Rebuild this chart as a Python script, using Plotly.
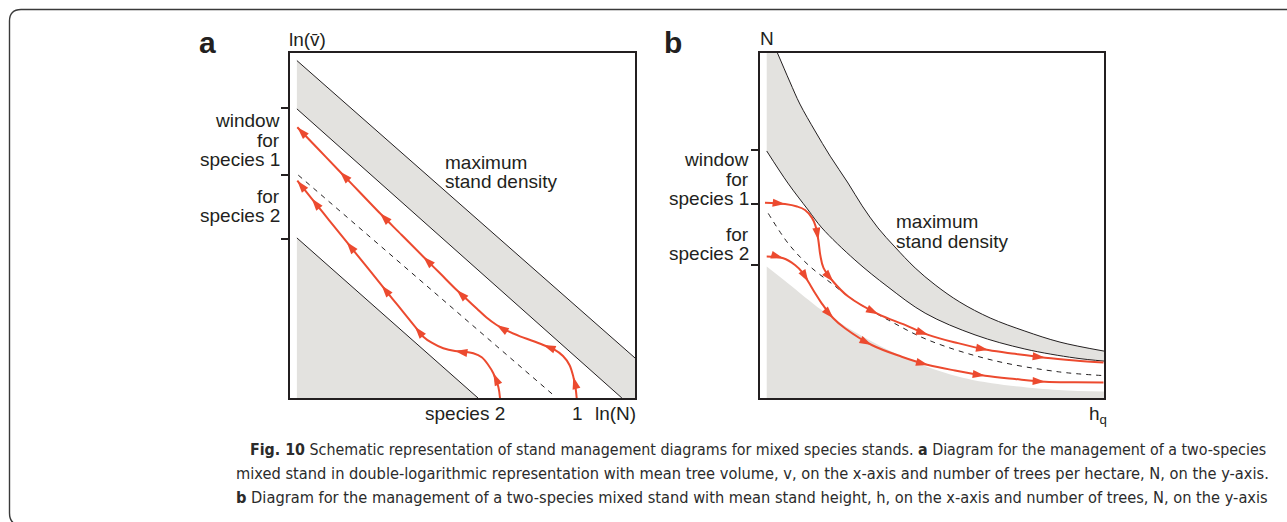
import math
import plotly.graph_objects as go

W, H = 1287, 522

# ---------------- Panel a (double-log diagram), axis units 0..100 ----------------
A_TICKS = [46.1, 64.6, 84.1]
A_MAX_X = [2.0, 100.0]
A_MAX_Y = [97.8, 11.6]
A_WIN_X = [2.0, 96.2]
A_WIN_Y = [83.8, 0.0]
A_MIN_X = [2.0, 54.5]
A_MIN_Y = [46.4, 0.0]
A_DASH_X = [2.4, 76.3]
A_DASH_Y = [64.6, 0.9]
A_S1_X = [83.10, 82.78, 82.12, 81.01, 79.13, 76.52, 73.42, 70.0, 66.67, 63.19, 59.91, 56.96,
          54.12, 51.16, 48.32, 43.48, 38.64, 32.38, 26.09, 20.29, 14.49, 8.32, 2.12]
A_S1_Y = [0.0, 2.9, 6.17, 9.57, 12.17, 14.06, 15.36, 16.67, 17.88, 19.36, 21.16, 23.33,
          25.94, 28.7, 31.3, 36.14, 40.96, 47.25, 53.54, 59.57, 65.59, 72.03, 78.46]
A_S1_ARROWS = [2, 6, 10, 14, 16, 18, 20, 22]
A_S2_X = [60.87, 60.38, 58.93, 57.48, 55.57, 53.13, 50.43, 47.83, 44.43, 41.07, 38.64, 36.23,
          31.39, 26.58, 21.51, 16.43, 11.36, 6.29, 2.12]
A_S2_Y = [0.0, 3.28, 7.16, 9.57, 11.8, 12.96, 13.45, 13.62, 14.41, 16.03, 17.77, 20.67,
          26.67, 32.64, 38.93, 45.22, 51.51, 57.8, 62.99]
A_S2_ARROWS = [2, 7, 11, 13, 15, 17, 18]

# ---------------- Panel b (height diagram), axis units 0..100 ----------------
B_TICKS = [38.6, 56.2, 72.0]
B_MAX_X = [1.95, 5.2, 8.7, 11.6, 16.0, 20.4, 25.6, 29.7, 34.3, 39.2, 45.1, 50.9, 58.1, 66.9, 77.0, 87.2, 100.0]
B_MAX_Y = [107.2, 99.7, 91.6, 85.2, 77.4, 70.1, 62.3, 55.7, 49.3, 43.8, 37.7, 32.8, 27.8, 23.2, 19.4, 16.2, 13.6]
B_WIN_X = [1.95, 8.1, 14.0, 18.0, 27.6, 37.2, 48.0, 62.5, 77.0, 91.6, 100.0]
B_WIN_Y = [71.6, 62.3, 54.5, 49.3, 40.0, 32.2, 24.6, 18.3, 14.2, 11.6, 10.7]
B_DASH_X = [2.4, 8.2, 14.0, 20.8, 27.6, 37.3, 48.9, 67.4, 86.7, 99.8]
B_DASH_Y = [53.5, 44.8, 38.6, 33.2, 28.1, 22.6, 16.8, 11.0, 7.6, 6.5]
B_LOW_X = [1.95, 8.2, 17.9, 27.6, 37.3, 48.0, 58.1, 67.4, 86.7, 100.0]
B_LOW_Y = [38.1, 33.2, 25.5, 19.1, 13.9, 9.3, 6.1, 4.3, 2.3, 1.9]
B_S1_X = [1.45, 7.27, 10.76, 13.08, 15.12, 16.13, 16.95, 17.53, 18.46, 21.31, 25.67, 34.39, 42.15,
          48.92, 57.56, 66.37, 74.13, 82.85, 91.57, 99.85]
B_S1_Y = [56.6, 56.2, 55.5, 54.5, 52.2, 49.9, 45.8, 41.4, 37.7, 33.7, 29.4, 24.3, 21.2,
          18.3, 15.9, 13.9, 12.8, 11.7, 10.9, 10.3]
B_S1_ARROWS = [1, 6, 9, 11, 13, 15, 17]
B_S2_X = [1.95, 6.77, 10.17, 12.5, 14.04, 15.99, 17.94, 21.31, 24.71, 32.47, 41.19, 48.92,
          56.69, 65.41, 74.13, 82.85, 91.57, 99.85]
B_S2_Y = [41.0, 40.5, 38.55, 36.23, 33.71, 30.43, 27.45, 23.1, 20.2, 15.36, 11.97, 9.57,
          7.97, 6.46, 5.51, 4.72, 4.55, 4.49]
B_S2_ARROWS = [1, 4, 7, 9, 11, 13, 15]

# ---------------- text ----------------
LEFT_LABELS = ["window", "for", "species 1", "for", "species 2"]
CAPTION = [
    "<b>Fig. 10</b> Schematic representation of stand management diagrams for mixed species stands. "
    "<b>a</b> Diagram for the management of a two-species",
    "mixed stand in double-logarithmic representation with mean tree volume, v, on the x-axis and "
    "number of trees per hectare, N, on the y-axis.",
    "<b>b</b> Diagram for the management of a two-species mixed stand with mean stand height, h, "
    "on the x-axis and number of trees, N, on the y-axis",
]
CAPTION_SIZES = [15.85, 16.3, 16.25]

RED = "#ec4a2f"
GRAY = "#e3e2df"
INK = "#231f20"
FONT = "Liberation Sans, Arial, sans-serif"

# pixel frames of the two panels
A_BOX = (290, 635, 53, 398)
B_BOX = (760, 1104, 53, 398)


def dom(box):
    x0, x1, y0, y1 = box
    return [x0 / W, x1 / W], [1 - y1 / H, 1 - y0 / H]


def angles(xs, ys, idx, box):
    sx = (box[1] - box[0]) / 100.0
    sy = (box[3] - box[2]) / 100.0
    out = []
    for i in idx:
        j0 = max(i - 1, 0)
        j1 = min(i + 1, len(xs) - 1)
        dx = (xs[j1] - xs[j0]) * sx
        dy = (ys[j1] - ys[j0]) * sy
        out.append(math.degrees(math.atan2(dx, dy)))
    return out


fig = go.Figure()


def add(tr, panel):
    if panel == "a":
        tr.update(xaxis="x", yaxis="y")
    else:
        tr.update(xaxis="x2", yaxis="y2")
    tr.update(showlegend=False, hoverinfo="skip")
    fig.add_trace(tr)


SPL = dict(shape="spline", smoothing=1.0)
ARROW_SIZE = 13

# ----- panel a -----
add(go.Scatter(x=A_MAX_X + [100.0] + A_WIN_X[::-1], y=A_MAX_Y + [0.0] + A_WIN_Y[::-1],
               mode="lines", fill="toself", fillcolor=GRAY, line=dict(width=0)), "a")
add(go.Scatter(x=A_MIN_X, y=A_MIN_Y, mode="lines", fill="tozeroy", fillcolor=GRAY,
               line=dict(color=INK, width=1)), "a")
add(go.Scatter(x=A_MAX_X, y=A_MAX_Y, mode="lines", line=dict(color=INK, width=1)), "a")
add(go.Scatter(x=A_WIN_X, y=A_WIN_Y, mode="lines", line=dict(color=INK, width=1)), "a")
add(go.Scatter(x=A_DASH_X, y=A_DASH_Y, mode="lines", line=dict(color=INK, width=1, dash="5px,5px")), "a")
for xs, ys, idx in [(A_S1_X, A_S1_Y, A_S1_ARROWS), (A_S2_X, A_S2_Y, A_S2_ARROWS)]:
    add(go.Scatter(x=xs, y=ys, mode="lines", line=dict(color=RED, width=2, **SPL)), "a")
    add(go.Scatter(x=[xs[i] for i in idx], y=[ys[i] for i in idx], mode="markers",
                   marker=dict(symbol="arrow", size=ARROW_SIZE, color=RED,
                               angle=angles(xs, ys, idx, A_BOX), line=dict(width=0))), "a")

# ----- panel b -----
add(go.Scatter(x=B_LOW_X, y=B_LOW_Y, mode="lines", fill="tozeroy", fillcolor=GRAY,
               line=dict(width=0, **SPL)), "b")
add(go.Scatter(x=B_WIN_X, y=B_WIN_Y, mode="lines", line=dict(color=INK, width=1, **SPL)), "b")
add(go.Scatter(x=B_MAX_X, y=B_MAX_Y, mode="lines", fill="tonexty", fillcolor=GRAY,
               line=dict(color=INK, width=1, **SPL)), "b")
add(go.Scatter(x=B_DASH_X, y=B_DASH_Y, mode="lines",
               line=dict(color=INK, width=1, dash="5px,5px", **SPL)), "b")
for xs, ys, idx in [(B_S1_X, B_S1_Y, B_S1_ARROWS), (B_S2_X, B_S2_Y, B_S2_ARROWS)]:
    add(go.Scatter(x=xs, y=ys, mode="lines", line=dict(color=RED, width=2, **SPL)), "b")
    add(go.Scatter(x=[xs[i] for i in idx], y=[ys[i] for i in idx], mode="markers",
                   marker=dict(symbol="arrow", size=ARROW_SIZE, color=RED,
                               angle=angles(xs, ys, idx, B_BOX), line=dict(width=0))), "b")

# ----- axes -----
ax_common = dict(range=[0, 100], showgrid=False, zeroline=False, showticklabels=False,
                 showline=True, mirror=True, linecolor=INK, linewidth=1.8, fixedrange=True)
xa, ya = dom(A_BOX)
xb, yb = dom(B_BOX)
fig.update_layout(
    xaxis=dict(domain=xa, anchor="y", ticks="", **ax_common),
    yaxis=dict(domain=ya, anchor="x", ticks="outside", tickvals=A_TICKS, ticklen=7,
               tickwidth=1.5, tickcolor=INK, **ax_common),
    xaxis2=dict(domain=xb, anchor="y2", ticks="", **ax_common),
    yaxis2=dict(domain=yb, anchor="x2", ticks="outside", tickvals=B_TICKS, ticklen=7,
                tickwidth=1.5, tickcolor=INK, **ax_common),
)

# ----- annotations -----
anns = []


def ann(text, px, py, xanchor="left", size=19, color=INK, family=FONT):
    anns.append(dict(text=text, x=px / W, y=1 - py / H, xref="paper", yref="paper",
                     xanchor=xanchor, yanchor="middle", showarrow=False, borderpad=0,
                     borderwidth=0, font=dict(family=family, size=size, color=color)))


# panel a
ann("<b>a</b>", 199, 42, size=30)
ann("ln(v\u0304)", 289, 40)
for t, y in zip(LEFT_LABELS, [120.1, 140.1, 159.1, 196.1, 215.7]):
    ann(t, 280, y, xanchor="right")
ann("maximum", 445, 162.4)
ann("stand density", 445, 181.4)
ann("species 2", 465, 413.4, xanchor="center")
ann("1", 577.5, 413.4, xanchor="center")
ann("ln(N)", 595, 413.4)

# panel b
ann("<b>b</b>", 664, 42, size=30)
ann("N", 760, 39)
for t, y in zip(LEFT_LABELS, [160.0, 179.4, 198.4, 234.0, 253.4]):
    ann(t, 749.3, y, xanchor="right")
ann("maximum", 895.7, 221.7)
ann("stand density", 895.7, 241.0)
ann("h<sub>q</sub>", 1107, 415, xanchor="right")

# caption
CAP_FONT = "DejaVu Sans Condensed, DejaVu Sans"
for t, x, y, s in zip(CAPTION, [250, 236, 236], [449, 473, 497], CAPTION_SIZES):
    ann(t, x, y, size=s, color="#2b2b2b", family=CAP_FONT)

fig.update_layout(annotations=anns)


# outer rounded frame (left/top visible)
def P(px, py):
    return f"{px / W:.5f},{1 - py / H:.5f}"


frame = ("M" + P(1300, 9.5) + " L" + P(21, 9.5) + " Q" + P(9.5, 9.5) + " " + P(9.5, 21)
         + " L" + P(9.5, 513) + " Q" + P(9.5, 525) + " " + P(21, 525))
fig.update_layout(shapes=[dict(type="path", xref="paper", yref="paper", path=frame,
                               line=dict(color="#3a3a3a", width=1.4))])

fig.update_layout(width=W, height=H, margin=dict(l=0, r=0, t=0, b=0),
                  paper_bgcolor="white", plot_bgcolor="white")

fig.write_html("out.html")
